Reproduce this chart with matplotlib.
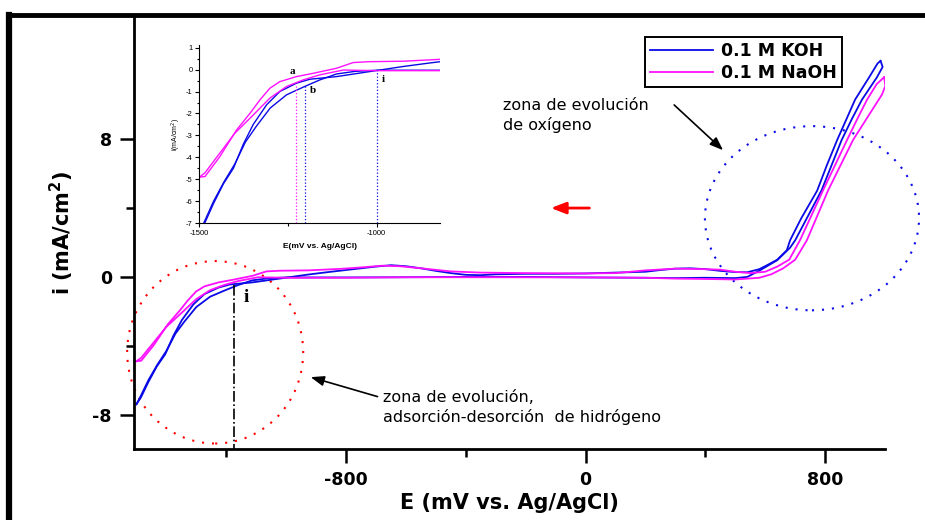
import matplotlib as mpl
mpl.use('Agg')
import matplotlib.pyplot as plt
from matplotlib.patches import Ellipse
from matplotlib.lines import Line2D
from matplotlib.ticker import FixedLocator

mpl.rcParams['font.family'] = ['Liberation Sans', 'DejaVu Sans']
mpl.rcParams['axes.unicode_minus'] = False

# voltammetry, Pt in 0.1 M KOH / 0.1 M NaOH (E in mV vs Ag/AgCl, i in mA/cm2)
koh_fwd_E = [-1500, -1485, -1460, -1432, -1404, -1376, -1348, -1310, -1273, -1226, -1188,
             -1113, -1019, -925, -850, -800, -750, -700, -650, -600, -550, -500, -450,
             -400, -350, -300, -200, -100, 0, 100, 200, 250, 300, 350, 400, 450, 500,
             540, 580, 606, 640, 672, 683, 720, 773, 806, 840, 872, 900, 947, 975, 985]
koh_fwd_i = [-7.4, -7.0, -6.1, -5.2, -4.5, -3.4, -2.5, -1.6, -1.0, -0.62, -0.44,
             -0.32, -0.09, 0.14, 0.3, 0.4, 0.5, 0.6, 0.68, 0.62, 0.5, 0.35, 0.22,
             0.12, 0.1, 0.15, 0.18, 0.18, 0.2, 0.25, 0.3, 0.4, 0.48, 0.5, 0.45, 0.35, 0.28,
             0.27, 0.45, 0.68, 1.0, 1.55, 2.13, 3.4, 5.0, 6.5, 7.95, 9.2, 10.3, 11.6, 12.4, 12.55]

koh_rev_E = [985, 992, 973, 923, 890, 855, 788, 700, 683, 640, 583, 540, 500, 400, 300,
             200, 0, -200, -400, -600, -800, -1000, -1060, -1113, -1160, -1207, -1254,
             -1300, -1340, -1370, -1400, -1430, -1460, -1485, -1500]
koh_rev_i = [12.55, 12.2, 11.6, 10.3, 9.2, 7.95, 5.03, 2.13, 1.7, 0.97, 0.39, 0.0, -0.07,
             -0.05, -0.07, -0.05, -0.03, 0.0, 0.0, -0.02, -0.03, -0.03, -0.08, -0.2,
             -0.47, -0.8, -1.15, -1.75, -2.6, -3.3, -4.3, -5.1, -6.0, -6.9, -7.4]

naoh_fwd_E = [-1500, -1484, -1442, -1395, -1357, -1329, -1301, -1273, -1226, -1179, -1113,
              -1066, -1019, -925, -816, -750, -680, -620, -550, -450, -350, -200, 0, 100,
              200, 300, 400, 450, 500, 550, 600, 640, 680, 716, 793, 873, 908, 940, 972, 997]
naoh_fwd_i = [-4.9, -4.87, -3.96, -2.75, -1.99, -1.38, -0.85, -0.55, -0.32, -0.17, 0.06,
              0.32, 0.36, 0.38, 0.47, 0.55, 0.65, 0.62, 0.5, 0.32, 0.25, 0.22, 0.2, 0.22,
              0.38, 0.48, 0.45, 0.42, 0.3, 0.22, 0.3, 0.6, 1.0, 2.13, 5.03, 7.95, 9.2, 10.3,
              11.2, 11.6]

naoh_rev_E = [997, 1001, 990, 968, 935, 893, 810, 739, 700, 660, 620, 580, 500, 400, 300,
              200, 0, -300, -600, -800, -1000, -1094, -1160, -1207, -1254, -1301, -1348,
              -1400, -1442, -1484, -1500]
naoh_rev_i = [11.6, 11.1, 10.6, 10.0, 9.1, 7.95, 5.03, 2.13, 1.0, 0.5, 0.15, -0.05, -0.15,
              -0.12, -0.1, -0.05, -0.03, -0.02, -0.02, -0.05, -0.05, -0.02, -0.24, -0.47,
              -0.77, -1.3, -2.07, -2.9, -3.8, -4.7, -4.9]

azul = '#0a0ae6'
magenta = '#ff10ff'
negrita = {'family': 'DejaVu Sans', 'weight': 'bold'}

fig = plt.figure(figsize=(9.25, 5.2), dpi=100)
ax = fig.add_axes([0.1449, 0.1365, 0.8119, 0.8308])

ax.plot(koh_fwd_E, koh_fwd_i, color=azul, lw=1.3, label='0.1 M KOH')
ax.plot(koh_rev_E, koh_rev_i, color=azul, lw=1.3)
ax.plot(naoh_fwd_E, naoh_fwd_i, color=magenta, lw=1.3, label='0.1 M NaOH')
ax.plot(naoh_rev_E, naoh_rev_i, color=magenta, lw=1.3)

ax.set_xlim(-1508, 1000)
ax.set_ylim(-10, 15.1)
ax.spines['top'].set_visible(False)
ax.spines['right'].set_visible(False)
for s in ['left', 'bottom']:
    ax.spines[s].set_linewidth(2)
ax.xaxis.set_major_locator(FixedLocator([-800, 0, 800]))
ax.xaxis.set_minor_locator(FixedLocator([-1200, -400, 400]))
ax.yaxis.set_major_locator(FixedLocator([-8, 0, 8]))
ax.yaxis.set_minor_locator(FixedLocator([-4, 4]))
ax.tick_params(which='major', length=10, width=1.8, pad=6)
ax.tick_params(which='minor', length=6, width=1.8)
for lab in ax.get_xticklabels() + ax.get_yticklabels():
    lab.set_fontproperties(negrita)
    lab.set_fontsize(12.5)
ax.set_xlabel('E (mV vs. Ag/AgCl)', fontsize=15, fontdict=negrita, labelpad=3)
ax.set_ylabel('i (mA/cm$^\\mathbf{2}$)', fontsize=15, fontdict=negrita, labelpad=12)

# zonas de reaccion
ax.add_patch(Ellipse((-1237, -4.38), 588, 10.6, fill=False, ec='red', lw=1.5,
                     ls=(0, (1, 3.8)), clip_on=False))
ax.add_patch(Ellipse((756, 3.41), 715, 10.7, fill=False, ec=azul, lw=1.5,
                     ls=(0, (1, 3.8)), clip_on=False))

ax.plot([-1174, -1174], [-0.48, -10], color='k', lw=1.2, ls='-.')
ax.text(-1134, -1.2, 'i', fontsize=14, fontweight='bold', family='Liberation Serif',
        ha='center', va='center')

ax.annotate('', xy=(-125, 4.0), xytext=(22, 4.0),
            arrowprops=dict(arrowstyle='-|>,head_length=0.9,head_width=0.35',
                            color='red', lw=2))

ax.text(-276, 10.4, 'zona de evolución\nde oxígeno', fontsize=11.5,
        family='DejaVu Sans', va='top', ha='left', linespacing=1.35)
ax.annotate('', xy=(466, 7.25), xytext=(289, 10.1),
            arrowprops=dict(arrowstyle='-|>,head_length=0.8,head_width=0.3',
                            color='k', lw=1.2))

ax.text(-676, -6.55, 'zona de evolución,\nadsorción-desorción  de hidrógeno', fontsize=11.5,
        family='DejaVu Sans', va='top', ha='left', linespacing=1.35)
ax.annotate('', xy=(-927, -5.78), xytext=(-686, -7.0),
            arrowprops=dict(arrowstyle='-|>,head_length=0.8,head_width=0.3',
                            color='k', lw=1.2))

leg = ax.legend(loc='upper left', bbox_to_anchor=(645 / 925, 1 - 37 / 520),
                bbox_transform=fig.transFigure, borderaxespad=0, fancybox=False,
                edgecolor='k', handlelength=3.6, prop={**negrita, 'size': 12.5},
                borderpad=0.3, labelspacing=0.2, handletextpad=0.5)
leg.get_frame().set_linewidth(1.4)
leg.get_frame().set_alpha(1)

# inset: zona de hidrogeno ampliada
axi = fig.add_axes([0.2155, 0.5706, 0.2602, 0.3429])
axi.plot(koh_fwd_E, koh_fwd_i, color=azul, lw=1.0)
axi.plot(koh_rev_E, koh_rev_i, color=azul, lw=1.0)
axi.plot(naoh_fwd_E, naoh_fwd_i, color=magenta, lw=1.0)
axi.plot(naoh_rev_E, naoh_rev_i, color=magenta, lw=1.0)
axi.plot([-1227, -1227], [-7, -0.77], color=magenta, lw=0.9, ls=':')
axi.plot([-1202, -1202], [-7, -0.7], color=azul, lw=0.9, ls=':')
axi.plot([-1000, -1000], [-7, -0.02], color=azul, lw=0.9, ls=':')
axi.text(-1237, -0.09, 'a', fontsize=8, fontweight='bold', family='Liberation Serif',
         ha='center', va='center')
axi.text(-1180, -0.97, 'b', fontsize=8, fontweight='bold', family='Liberation Serif',
         ha='center', va='center')
axi.text(-981, -0.47, 'i', fontsize=8, fontweight='bold', family='Liberation Serif',
         ha='center', va='center')
axi.set_xlim(-1500, -821)
axi.set_ylim(-7, 1.12)
axi.spines['top'].set_visible(False)
axi.spines['right'].set_visible(False)
axi.xaxis.set_major_locator(FixedLocator([-1500, -1000]))
axi.xaxis.set_minor_locator(FixedLocator([-1250]))
axi.yaxis.set_major_locator(FixedLocator(list(range(-7, 2))))
axi.yaxis.set_minor_locator(FixedLocator([v + 0.5 for v in range(-7, 1)]))
axi.tick_params(which='major', length=3, width=0.8, labelsize=5.5, pad=2)
axi.tick_params(which='minor', length=1.8, width=0.8)
axi.set_xlabel('E(mV vs. Ag/AgCl)', fontsize=6, fontweight='bold', labelpad=4)
axi.set_ylabel('i(mA/cm$^2$)', fontsize=5, labelpad=2)
axi.patch.set_alpha(0)

# marco de la figura
fig.add_artist(Line2D([0.0097, 1.0], [0.971, 0.971], color='k', lw=3.5,
                      transform=fig.transFigure))
fig.add_artist(Line2D([0.0097, 0.0097], [0.0, 0.971], color='k', lw=4.5,
                      transform=fig.transFigure))

plt.savefig('out.png', dpi=100)
